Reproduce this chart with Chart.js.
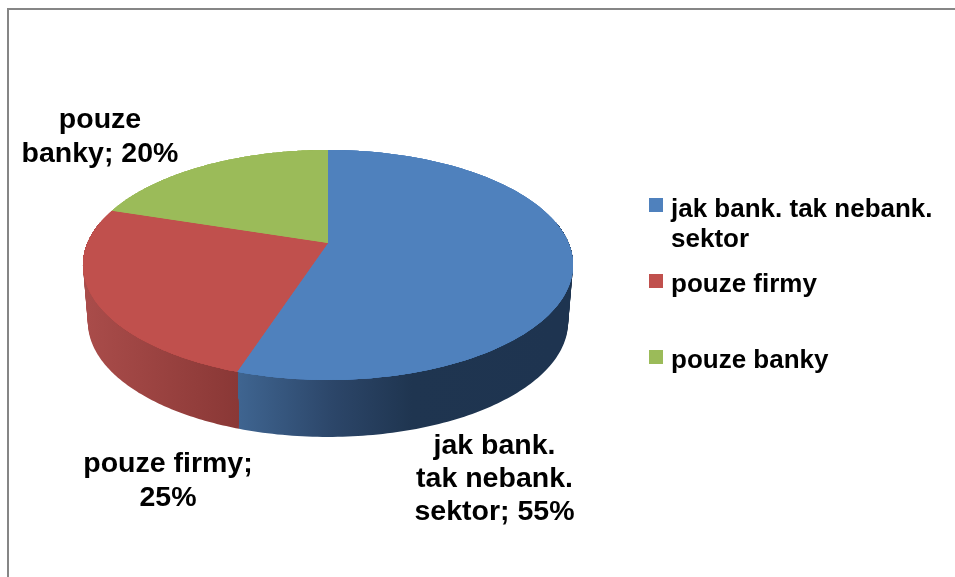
<!DOCTYPE html>
<html>
<head>
<meta charset="utf-8">
<style>
  html, body { margin: 0; padding: 0; background: #fff; overflow: hidden; }
  #wrap { position: relative; width: 955px; height: 577px; }
  #frame { position: absolute; left: 7px; top: 8px; width: 960px; height: 580px; border: 2px solid #868686; box-sizing: border-box; }
  canvas { position: absolute; left: 0; top: 0; filter: blur(0.4px); }
</style>
<script src="https://cdn.jsdelivr.net/npm/chart.js@4"></script>
</head>
<body>
<div id="wrap">
  <div id="frame"></div>
  <canvas id="myChart" width="955" height="577"></canvas>
</div>
<script>
const categories = ['jak bank. tak nebank. sektor', 'pouze firmy', 'pouze banky'];
const values = [55, 25, 20];
const colors = ['#4f81bd', '#c0504d', '#9bbb59'];

// how the texts are broken into lines; the value gets added to the last line
const legendLines = [['jak bank. tak nebank.', 'sektor'], ['pouze firmy'], ['pouze banky']];
const labelLines = [['jak bank.', 'tak nebank.', 'sektor;'], ['pouze firmy;', ''], ['pouze', 'banky;']];

const font = 'bold 28.5px "Liberation Sans"';
const legendFont = 'bold 26px "Liberation Sans"';
const labelPos = [
    { x: 494.5, ys: [454, 487, 520] },
    { x: 168, ys: [472, 506] },
    { x: 100, ys: [128, 162] }
];
const legendPos = [
    { box: 198, ys: [217, 247] },
    { box: 274, ys: [292] },
    { box: 350, ys: [368] }
];

// wall shading per slice, left to right over the width of the slice
const wallShades = [
    [[0, '#3f6591'], [0.3, '#2c4669'], [0.55, '#1f3550'], [1, '#1e3450']],
    [[0, '#a94c4a'], [1, '#8a3836']],
    [[0, '#76903f'], [1, '#76903f']]
];

const squash = 0.4607;  // tilt of the pie
const persp = -0.191;   // near edge looks bigger than the far one
const depth = 57;

// circle angle -> point on the tilted pie, t goes from top rim (0) to bottom rim (1)
function project(arc, a, t) {
    const den = 1 + persp * Math.sin(a);
    const r = arc.outerRadius;
    const x = r * Math.cos(a) / den * (1 - 0.02 * t);
    const y = squash * r * Math.sin(a) / den + depth * t;
    return [arc.x + x, arc.y + y];
}

function rim(ctx, arc, from, to, t) {
    const steps = 120;
    for (let i = 0; i <= steps; i++) {
        const p = project(arc, from + (to - from) * i / steps, t);
        ctx.lineTo(p[0], p[1]);
    }
}

const pie3d = {
    id: 'pie3d',
    beforeDatasetsDraw(chart) {
        const ctx = chart.ctx;
        const arcs = chart.getDatasetMeta(0).data;

        // side walls, only the part of the rim that faces us
        arcs.forEach((arc, i) => {
            const from = Math.max(arc.startAngle, -0.2);
            const to = Math.min(arc.endAngle, Math.PI + 0.2);
            if (from >= to) return;
            const a = project(arc, to, 0)[0];
            const b = project(arc, from, 0)[0];
            const wall = ctx.createLinearGradient(Math.min(a, b, arc.x - (i ? arc.outerRadius : 0)), 0, Math.max(a, b), 0);
            wallShades[i].forEach(s => wall.addColorStop(s[0], s[1]));
            ctx.fillStyle = wall;
            for (let k = 1; k <= depth; k += 2) {
                ctx.beginPath();
                rim(ctx, arc, from, to, 0);
                rim(ctx, arc, to, from, k / depth);
                ctx.closePath();
                ctx.fill();
            }
        });

        // top faces, filled a few times so no wall colour leaks through the soft edge
        for (let n = 0; n < 4; n++) {
            arcs.forEach(arc => {
                ctx.beginPath();
                ctx.moveTo(arc.x, arc.y);
                rim(ctx, arc, arc.startAngle, arc.endAngle, 0);
                ctx.closePath();
                ctx.fillStyle = arc.options.backgroundColor;
                ctx.fill();
            });
        }
        return false; // slices are done, skip the flat ones
    },
    afterDraw(chart) {
        const ctx = chart.ctx;
        ctx.save();
        ctx.fillStyle = '#000';
        ctx.textBaseline = 'alphabetic';

        // data labels
        ctx.font = font;
        ctx.textAlign = 'center';
        labelLines.forEach((lines, i) => {
            lines.forEach((line, j) => {
                let txt = line;
                if (j === lines.length - 1) txt = (line + ' ' + values[i] + '%').trim();
                ctx.fillText(txt, labelPos[i].x, labelPos[i].ys[j]);
            });
        });

        // legend
        ctx.font = legendFont;
        ctx.textAlign = 'left';
        legendLines.forEach((lines, i) => {
            ctx.fillStyle = colors[i];
            ctx.fillRect(649, legendPos[i].box, 14, 14);
            ctx.fillStyle = '#000';
            lines.forEach((line, j) => ctx.fillText(line, 671, legendPos[i].ys[j]));
        });
        ctx.restore();
    }
};

const ctx = document.getElementById('myChart').getContext('2d');
const myChart = new Chart(ctx, {
    type: 'pie',
    data: {
        labels: categories,
        datasets: [{ data: values, backgroundColor: colors, borderWidth: 0 }]
    },
    options: {
        responsive: false,
        animation: false,
        layout: { padding: { left: 87.5, right: 386.5, top: 2.5, bottom: 93.5 } },
        plugins: { legend: { display: false }, tooltip: { enabled: false } }
    },
    plugins: [pie3d]
});
</script>
</body>
</html>
